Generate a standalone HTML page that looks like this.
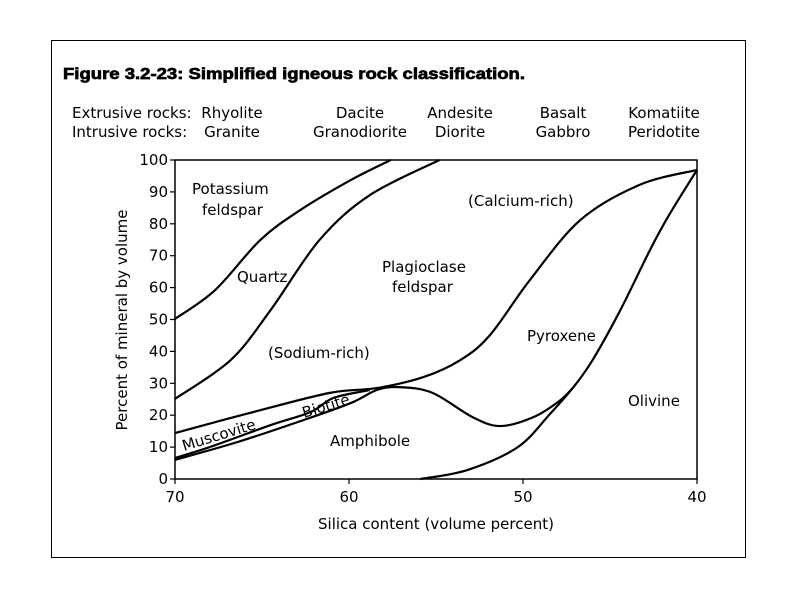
<!DOCTYPE html>
<html><head><meta charset="utf-8"><style>
body{margin:0;background:#fff;}
svg{display:block;font-family:"DejaVu Sans","Liberation Sans",sans-serif;}
</style></head><body>
<svg width="797" height="598" viewBox="0 0 797 598">
<rect x="51.5" y="40.5" width="694" height="517" fill="none" stroke="#000" stroke-width="1"/>
<text x="63" y="79" font-family="Liberation Sans, sans-serif" font-weight="bold" font-size="16" stroke="#000" stroke-width="0.7" textLength="462" lengthAdjust="spacingAndGlyphs">Figure 3.2-23: Simplified igneous rock classification.</text>
<g font-size="15" fill="#000" id="hdr">
<text x="72" y="118">Extrusive rocks:</text>
<text x="72" y="137">Intrusive rocks:</text>
<text x="232" y="118" text-anchor="middle">Rhyolite</text>
<text x="232" y="137" text-anchor="middle">Granite</text>
<text x="360" y="118" text-anchor="middle">Dacite</text>
<text x="360" y="137" text-anchor="middle">Granodiorite</text>
<text x="460" y="118" text-anchor="middle">Andesite</text>
<text x="460" y="137" text-anchor="middle">Diorite</text>
<text x="563" y="118" text-anchor="middle">Basalt</text>
<text x="563" y="137" text-anchor="middle">Gabbro</text>
<text x="664" y="118" text-anchor="middle">Komatiite</text>
<text x="664" y="137" text-anchor="middle">Peridotite</text>
</g>
<g id="axes"></g>
<g id="curves"></g>
<g font-size="15">
<text x="192" y="194">Potassium</text>
<text x="202" y="215">feldspar</text>
<text x="237" y="282">Quartz</text>
<text x="382" y="272">Plagioclase</text>
<text x="392" y="292">feldspar</text>
<text x="468" y="206">(Calcium-rich)</text>
<text x="268" y="358">(Sodium-rich)</text>
<text x="527" y="341">Pyroxene</text>
<text x="628" y="406">Olivine</text>
<text x="330" y="446">Amphibole</text>
<text x="184" y="451" transform="rotate(-17 184 451)">Muscovite</text>
<text x="304" y="418" transform="rotate(-17 304 418)">Biotite</text>
</g>
<text x="436" y="529" font-size="15" text-anchor="middle">Silica content (volume percent)</text>
<text transform="translate(127 320) rotate(-90)" font-size="15" text-anchor="middle">Percent of mineral by volume</text>
</svg>
<script>
const xTicks=[70,60,50,40];
const yTicks=[0,10,20,30,40,50,60,70,80,90,100];
const kfeldsparSilica=[70,67.7,65.1,62.8,59.9,57.6];
const kfeldsparPct=[50.2,59.2,74.9,84.3,93.7,100];
const quartzSilica=[70,66.8,64.5,61.7,58.8,54.8];
const quartzPct=[25.1,37.3,53,74.9,89,100];
const plagSilica=[70,65.7,61.1,58.4,55.7,53.6,51.9,49.6,46.7,43.3,40];
const plagPct=[14.4,20.7,27,28.5,32,37.3,45.1,62.4,81.2,92.2,96.9];
const muscSilica=[70,68,64.5,62.2,60.9,58.8];
const muscPct=[6.6,10,16.9,21,25.4,27.9];
const amphSilica=[70,66.4,62.6,59.9,58.4,57.1,55.2,52.9,51.3,49.4,47.9,47.1];
const amphPct=[6,11.6,18.5,23.8,27.9,28.8,27,19.4,16.6,19.4,24.5,28.8];
const olivSilica=[55.9,53.2,50.3,48.4,47.1,46,44.4,42.7,41.6,40];
const olivPct=[0,2.8,10,20.7,28.8,37.3,53,71.8,82.8,96.9];

const X0=175,X1=697,Y0=479,Y1=160;
const xs=s=>X0+(70-s)/30*(X1-X0);
const ys=p=>Y0-p/100*(Y0-Y1);
const NS='http://www.w3.org/2000/svg';
const ax=document.getElementById('axes');
function mk(tag,attrs,parent){const e=document.createElementNS(NS,tag);for(const k in attrs)e.setAttribute(k,attrs[k]);parent.appendChild(e);return e;}
const fr=mk('rect',{x:X0,y:Y1,width:X1-X0,height:Y0-Y1,fill:'none',stroke:'#000','stroke-width':1.5},ax);


yTicks.forEach(v=>{
 const t=mk('line',{x1:X0-5,x2:X0,y1:ys(v),y2:ys(v),stroke:'#000','stroke-width':1.2},ax);
 
 
 const l=mk('text',{x:X0-7,y:ys(v)+5,'text-anchor':'end','font-size':15},ax);l.textContent=v;
 
 
});
xTicks.forEach(v=>{
 const t=mk('line',{x1:xs(v),x2:xs(v),y1:Y0,y2:Y0+5,stroke:'#000','stroke-width':1.2},ax);
 
 
 const l=mk('text',{x:xs(v),y:Y0+23,'text-anchor':'middle','font-size':15},ax);l.textContent=v;
 
 
});
function smooth(sx,py){
 const p=sx.map((s,i)=>[xs(s),ys(py[i])]);
 let d='M'+p[0][0]+','+p[0][1];
 for(let i=0;i<p.length-1;i++){
  const a=p[Math.max(0,i-1)],b=p[i],c=p[i+1],e=p[Math.min(p.length-1,i+2)];
  const c1=[b[0]+(c[0]-a[0])/6,b[1]+(c[1]-a[1])/6],c2=[c[0]-(e[0]-b[0])/6,c[1]-(e[1]-b[1])/6];
  d+=' C'+c1+' '+c2+' '+c;
 }
 return d;
}
const cv=document.getElementById('curves');
const series=[['kfeldspar-boundary',kfeldsparSilica,kfeldsparPct],['quartz-boundary',quartzSilica,quartzPct],['plagioclase-boundary',plagSilica,plagPct],['muscovite-boundary',muscSilica,muscPct],['amphibole-boundary',amphSilica,amphPct],['olivine-boundary',olivSilica,olivPct]];
series.forEach(([n,s,p])=>{
 const e=mk('path',{d:smooth(s,p),fill:'none',stroke:'#000','stroke-width':2.2},cv);
 
 
});
</script>
</body></html>
